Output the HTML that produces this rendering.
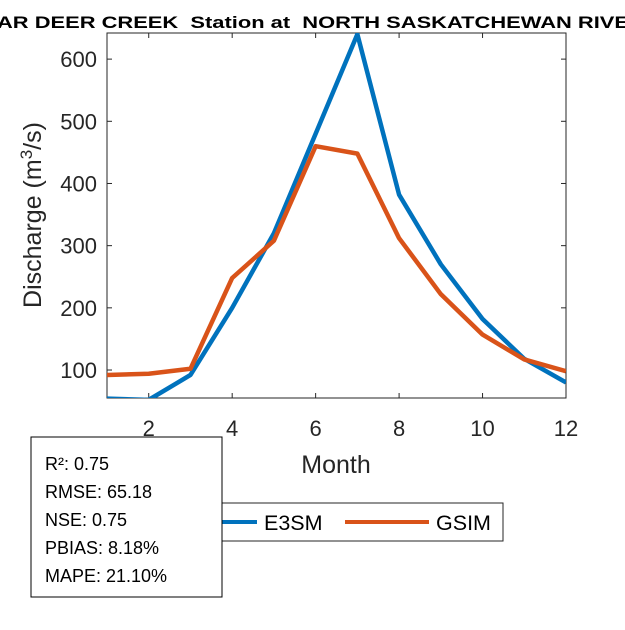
<!DOCTYPE html>
<html><head><meta charset="utf-8"><style>
body{margin:0;background:#fff;width:625px;height:625px;overflow:hidden}
text{font-family:"Liberation Sans",Arial,sans-serif;white-space:pre}
</style></head><body>
<svg id="chart" width="625" height="625" xmlns="http://www.w3.org/2000/svg">
<rect width="625" height="625" fill="#fff"/>
<text x="-3" y="28" font-size="17" font-weight="bold" textLength="632" lengthAdjust="spacingAndGlyphs">AR DEER CREEK  Station at  NORTH SASKATCHEWAN RIVE</text>
<defs><clipPath id="clip"><rect x="107" y="33" width="459" height="365"/></clipPath></defs>
<rect x="107" y="33" width="459" height="365" fill="#fff" stroke="#262626" stroke-width="1"/>
<g id="xticks"></g><g id="yticks"></g>
<g id="series" clip-path="url(#clip)"></g>
<text x="336" y="473" font-size="25" fill="#262626" text-anchor="middle">Month</text>
<text transform="translate(41,215) rotate(-90)" font-size="25" fill="#262626" text-anchor="middle">Discharge (m<tspan font-size="17" dy="-9">3</tspan><tspan dy="9">/s)</tspan></text>
<g>
<rect x="160" y="503" width="343" height="38" fill="#fff" stroke="#262626"/>
<line x1="174" y1="522" x2="257" y2="522" stroke="#0072BD" stroke-width="4"/>
<text x="264" y="530" font-size="21.5">E3SM</text>
<line x1="345" y1="522" x2="429" y2="522" stroke="#D95319" stroke-width="4"/>
<text x="436" y="530" font-size="21.5">GSIM</text>
</g>
<g>
<rect x="31" y="437" width="191" height="160" fill="#fff" stroke="#000" stroke-width="1"/>
<text x="45" y="470" font-size="18">R²: 0.75</text>
<text x="45" y="498" font-size="18">RMSE: 65.18</text>
<text x="45" y="526" font-size="18">NSE: 0.75</text>
<text x="45" y="554" font-size="18">PBIAS: 8.18%</text>
<text x="45" y="582" font-size="18">MAPE: 21.10%</text>
</g>
</svg>
<script>
const months=[1,2,3,4,5,6,7,8,9,10,11,12];
const e3sm=[54,52,92,200,320,480,640,382,270,182,118,80];
const gsim=[92,94,102,248,308,460,448,312,222,157,117,98];
const xTickLabels=[2,4,6,8,10,12];
const yTickLabels=[100,200,300,400,500,600];
const NS="http://www.w3.org/2000/svg";
const X0=107,X1=566,Y0=398,Y1=33,xmin=1,xmax=12,ymin=55,ymax=642;
const sx=v=>X0+(v-xmin)/(xmax-xmin)*(X1-X0);
const sy=v=>Y0-(v-ymin)/(ymax-ymin)*(Y0-Y1);
function mk(t,a,p){const e=document.createElementNS(NS,t);for(const k in a)e.setAttribute(k,a[k]);p.appendChild(e);return e;}
const xt=document.getElementById('xticks'),yt=document.getElementById('yticks'),sr=document.getElementById('series');
xTickLabels.forEach(v=>{const x=sx(v);
mk('line',{x1:x,x2:x,y1:Y0,y2:Y0-5,stroke:'#262626'},xt);mk('line',{x1:x,x2:x,y1:Y1,y2:Y1+5,stroke:'#262626'},xt);
const t=mk('text',{x:x,y:Y0+38,'font-size':22,fill:'#262626','text-anchor':'middle'},xt);t.textContent=v;

});
yTickLabels.forEach(v=>{const y=sy(v);
mk('line',{x1:X0,x2:X0+5,y1:y,y2:y,stroke:'#262626'},yt);mk('line',{x1:X1,x2:X1-5,y1:y,y2:y,stroke:'#262626'},yt);
const t=mk('text',{x:X0-10,y:y+8,'font-size':22,fill:'#262626','text-anchor':'end'},yt);t.textContent=v;

});
function line(vals,color,name){const p=mk('polyline',{points:vals.map((v,i)=>sx(months[i])+','+sy(v)).join(' '),fill:'none',stroke:color,'stroke-width':4.5,'stroke-linejoin':'round'},sr);

}
line(e3sm,'#0072BD','e3sm-line');
line(gsim,'#D95319','gsim-line');
</script>
</body></html>
